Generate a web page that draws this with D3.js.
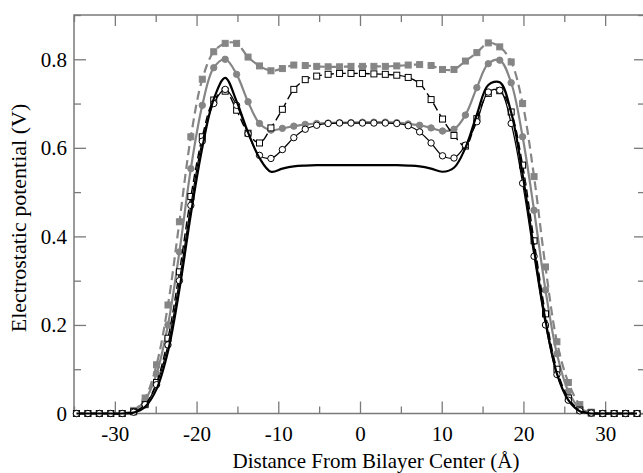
<!DOCTYPE html>
<html><head><meta charset="utf-8">
<script src="https://cdn.jsdelivr.net/npm/d3@7"></script>
<style>body{margin:0;background:#fff}svg{display:block}text{font-family:"Liberation Serif","DejaVu Serif",serif}</style>
</head><body>
<svg id="c" width="643" height="473"></svg>
<script>
const xVals = [-34.7,-33.3,-31.9,-30.5,-29.1,-27.7,-26.3,-24.9,-23.5,-22.1,-20.7,-19.3,-17.9,-16.5,-15.1,-13.7,-12.3,-10.9,-9.5,-8.1,-6.7,-5.3,-3.9,-2.5,-1.1,0.3,1.7,3.1,4.5,5.9,7.3,8.7,10.1,11.5,12.9,14.3,15.7,17.1,18.5,19.9,21.3,22.7,24.1,25.5,26.9,28.3,29.7,31.1,32.5,33.9];
// gray dashed, filled squares
const grayDashSquares = [0,0,0,0,0,0.007,0.035,0.11,0.245,0.433,0.625,0.755,0.817,0.836,0.836,0.805,0.785,0.774,0.779,0.787,0.786,0.784,0.783,0.783,0.784,0.784,0.784,0.784,0.785,0.787,0.788,0.786,0.777,0.777,0.796,0.815,0.837,0.828,0.794,0.70,0.535,0.331,0.162,0.07,0.02,0.003,0,0,0,0];
// gray solid, filled circles
const graySolidCircles = [0,0,0,0,0,0.006,0.03,0.09,0.20,0.365,0.553,0.696,0.781,0.80,0.766,0.704,0.655,0.640,0.644,0.649,0.653,0.655,0.656,0.657,0.657,0.658,0.658,0.658,0.657,0.654,0.651,0.645,0.638,0.642,0.674,0.736,0.79,0.798,0.747,0.625,0.459,0.279,0.135,0.05,0.012,0.002,0,0,0,0];
// black solid, no markers
const blackSolid = [0,0,0,0,0,0.002,0.015,0.055,0.14,0.28,0.45,0.60,0.71,0.758,0.705,0.635,0.577,0.546,0.553,0.558,0.56,0.561,0.561,0.561,0.561,0.561,0.561,0.561,0.561,0.56,0.558,0.553,0.546,0.555,0.60,0.675,0.742,0.748,0.68,0.54,0.37,0.21,0.09,0.03,0.005,0,0,0,0,0];
// black thin solid, open circles
const blackOpenCircles = [0,0,0,0,0,0.003,0.02,0.065,0.155,0.30,0.47,0.615,0.70,0.732,0.696,0.632,0.583,0.576,0.596,0.623,0.642,0.651,0.655,0.656,0.656,0.656,0.656,0.656,0.655,0.65,0.636,0.611,0.582,0.577,0.606,0.659,0.726,0.73,0.655,0.52,0.355,0.20,0.088,0.03,0.006,0.001,0,0,0,0];
// black dashed, open squares
const blackDashSquares = [0,0,0,0,0,0.004,0.02,0.07,0.17,0.32,0.49,0.625,0.708,0.728,0.685,0.633,0.611,0.645,0.687,0.732,0.754,0.762,0.766,0.768,0.768,0.768,0.767,0.766,0.764,0.759,0.745,0.709,0.665,0.628,0.604,0.666,0.723,0.729,0.681,0.561,0.39,0.225,0.10,0.035,0.008,0.001,0,0,0,0];

const xMajor = [-30,-20,-10,0,10,20,30];
const xMinor = [-35,-25,-15,-5,5,15,25,35];
const yMajor = [0,0.2,0.4,0.6,0.8];
const yMinor = [0.1,0.3,0.5,0.7,0.9];

const svg = d3.select('#c');
const L = 74, R = 646, T = 15, B = 413.5;
const x = d3.scaleLinear().domain([-35,35]).range([L,R]);
const y = d3.scaleLinear().domain([0,0.9]).range([B,T]);
const axisCol = '#7a7a7a';
const font = '"Liberation Serif", "DejaVu Serif", serif';

function styleAxis(g, labels){
  g.attr('font-family', null).attr('font-size', null);
  g.select('.domain').remove();
  g.selectAll('.tick line').attr('stroke', axisCol).attr('stroke-width',1.3);
  if(!labels) g.selectAll('.tick text').remove();
  else g.selectAll('.tick text').attr('fill','#000').style('font-family',font).style('font-size','21px');
}
// bottom
svg.append('g').attr('transform',`translate(0,${B})`).call(d3.axisBottom(x).tickValues(xMajor).tickFormat(d=>String(d)).tickSizeInner(-12).tickSizeOuter(0).tickPadding(13)).call(g=>styleAxis(g,true));
svg.append('g').attr('transform',`translate(0,${B})`).call(d3.axisBottom(x).tickValues(xMinor).tickSizeInner(-7).tickSizeOuter(0)).call(g=>styleAxis(g,false));
// top
svg.append('g').attr('transform',`translate(0,${T})`).call(d3.axisTop(x).tickValues(xMajor).tickSizeInner(-11).tickSizeOuter(0)).call(g=>styleAxis(g,false));
svg.append('g').attr('transform',`translate(0,${T})`).call(d3.axisTop(x).tickValues(xMinor).tickSizeInner(-7).tickSizeOuter(0)).call(g=>styleAxis(g,false));
// left
svg.append('g').attr('transform',`translate(${L},0)`).call(d3.axisLeft(y).tickValues(yMajor).tickFormat(d=>d===0?'0':d3.format('.1f')(d)).tickSizeInner(-12).tickSizeOuter(0).tickPadding(7)).call(g=>styleAxis(g,true));
svg.append('g').attr('transform',`translate(${L},0)`).call(d3.axisLeft(y).tickValues(yMinor).tickSizeInner(-7).tickSizeOuter(0)).call(g=>styleAxis(g,false));
// right
svg.append('g').attr('transform',`translate(${R},0)`).call(d3.axisRight(y).tickValues(yMajor).tickSizeInner(-12).tickSizeOuter(0)).call(g=>styleAxis(g,false));
svg.append('g').attr('transform',`translate(${R},0)`).call(d3.axisRight(y).tickValues(yMinor).tickSizeInner(-8).tickSizeOuter(0)).call(g=>styleAxis(g,false));
// frame
svg.append('rect').attr('x',L).attr('y',T).attr('width',R-L).attr('height',B-T).attr('fill','none').attr('stroke',axisCol).attr('stroke-width',1.5);

const line = d3.line().x(d=>x(d[0])).y(d=>y(d[1])).curve(d3.curveCatmullRom.alpha(0.5));
const gray = '#858585';
const series = [
  {v:grayDashSquares, stroke:gray, w:2.2, dash:'9,5', marker:'square', fill:gray, mstroke:gray},
  {v:graySolidCircles, stroke:gray, w:2.2, dash:null, marker:'circle', fill:gray, mstroke:gray},
  {v:blackDashSquares, stroke:'#000', w:1.4, dash:'8,4', marker:'square', fill:'#fff', mstroke:'#000'},
  {v:blackOpenCircles, stroke:'#000', w:1.2, dash:null, marker:'circle', fill:'#fff', mstroke:'#000'},
  {v:blackSolid, stroke:'#000', w:2.2, dash:null, marker:null}
];
series.forEach(s=>{
  const pts = xVals.map((xv,i)=>[xv,s.v[i]]);
  svg.append('path').datum(pts).attr('d',line).attr('fill','none').attr('stroke',s.stroke).attr('stroke-width',s.w).attr('stroke-dasharray',s.dash);
  if(s.marker==='square'){
    svg.append('g').selectAll('rect').data(pts).join('rect')
      .attr('x',d=>x(d[0])-3).attr('y',d=>y(d[1])-3).attr('width',6).attr('height',6)
      .attr('fill',s.fill).attr('stroke',s.mstroke).attr('stroke-width',1);
  } else if(s.marker==='circle'){
    svg.append('g').selectAll('circle').data(pts).join('circle')
      .attr('cx',d=>x(d[0])).attr('cy',d=>y(d[1])).attr('r',3.2)
      .attr('fill',s.fill).attr('stroke',s.mstroke).attr('stroke-width',1);
  }
});

svg.append('text').attr('x',376).attr('y',468).attr('text-anchor','middle')
  .style('font-family',font).style('font-size','21px').attr('fill','#000').text('Distance From Bilayer Center (Å)');
svg.append('text').attr('transform','translate(26,218) rotate(-90)').attr('text-anchor','middle')
  .style('font-family',font).style('font-size','22px').attr('fill','#000').text('Electrostatic potential (V)');
</script>
</body></html>
